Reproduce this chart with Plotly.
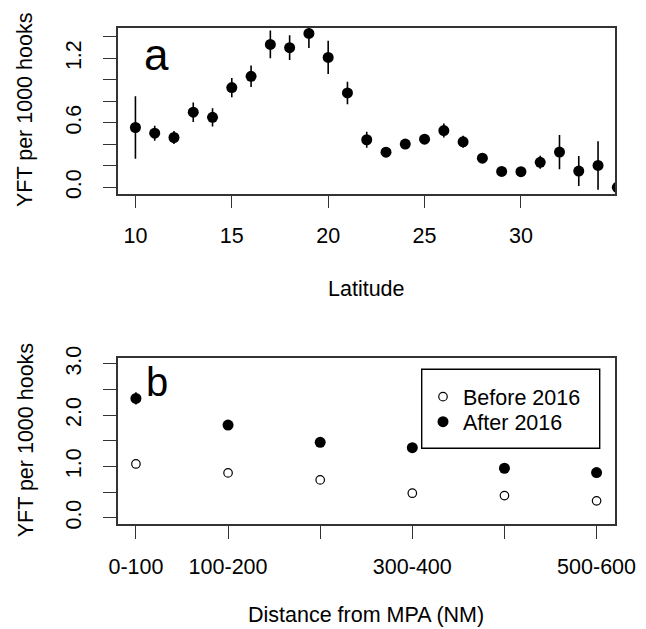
import plotly.graph_objects as go

# ---- Panel a data ----
latitude = [10, 11, 12, 13, 14, 15, 16, 17, 18, 19, 20, 21, 22, 23, 24, 25, 26, 27, 28, 29, 30, 31, 32, 33, 34, 35]
yft_lat = [0.557, 0.504, 0.464, 0.699, 0.652, 0.928, 1.033, 1.330, 1.299, 1.432, 1.209, 0.878, 0.443,
           0.327, 0.403, 0.448, 0.528, 0.424, 0.272, 0.148, 0.146, 0.233, 0.328, 0.152, 0.204, 0.0]
yft_lat_err = [0.29, 0.07, 0.06, 0.09, 0.085, 0.09, 0.10, 0.13, 0.115, 0.135, 0.155, 0.105, 0.075,
               0.03, 0.03, 0.035, 0.065, 0.055, 0.04, 0.03, 0.03, 0.06, 0.16, 0.14, 0.225, 0.0]
lat_ticks = [10, 15, 20, 25, 30]
a_yticks = [0.0, 0.2, 0.4, 0.6, 0.8, 1.0, 1.2, 1.4]
a_yticklabels = ["0.0", "", "", "0.6", "", "", "1.2", ""]

# ---- Panel b data ----
distance_bins = ["0-100", "100-200", "200-300", "300-400", "400-500", "500-600"]
shown_bin_labels = ["0-100", "100-200", "", "300-400", "", "500-600"]
before_2016 = [1.050, 0.875, 0.739, 0.480, 0.434, 0.331]
before_err = [0.05, 0.05, 0.05, 0.05, 0.05, 0.05]
after_2016 = [2.327, 1.808, 1.471, 1.367, 0.966, 0.881]
after_err = [0.12, 0.04, 0.04, 0.04, 0.04, 0.04]
b_yticks = [0.0, 0.5, 1.0, 1.5, 2.0, 2.5, 3.0]
b_yticklabels = ["0.0", "", "1.0", "", "2.0", "", "3.0"]

W, H = 646, 629
FONT = "Liberation Sans, Arial, sans-serif"
BOX = "#333333"
FS = 21.5

def px(x):
    return x / W

def py(y):
    return 1 - y / H

fig = go.Figure()

fig.add_trace(go.Scatter(
    x=latitude, y=yft_lat, mode="markers",
    marker=dict(size=11, color="black"),
    error_y=dict(type="data", array=yft_lat_err, color="black", thickness=1.6, width=0),
    showlegend=False, xaxis="x", yaxis="y",
))

bin_pos = list(range(1, len(distance_bins) + 1))
fig.add_trace(go.Scatter(
    x=bin_pos, y=before_2016, mode="markers", name="Before 2016",
    marker=dict(size=8.5, color="white", line=dict(color="black", width=1.2)),
    error_y=dict(type="data", array=before_err, color="black", thickness=1.2, width=0),
    xaxis="x2", yaxis="y2", legend="legend",
))
fig.add_trace(go.Scatter(
    x=bin_pos, y=after_2016, mode="markers", name="After 2016",
    marker=dict(size=11, color="black"),
    error_y=dict(type="data", array=after_err, color="black", thickness=1.6, width=0),
    xaxis="x2", yaxis="y2", legend="legend2",
))

axis_common = dict(
    showline=True, mirror=True, linecolor=BOX, linewidth=1.6,
    ticks="outside", ticklen=13, tickwidth=1.4, tickcolor=BOX,
    showgrid=False, zeroline=False, automargin=False,
    tickfont=dict(family=FONT, size=FS, color="black"),
)
title_font = dict(family=FONT, size=FS, color="black")
legend_common = dict(xanchor="left", yanchor="middle", borderwidth=0,
                     bgcolor="rgba(0,0,0,0)", font=dict(family=FONT, size=FS, color="black"),
                     itemwidth=30)

fig.update_layout(
    width=W, height=H,
    margin=dict(l=0, r=0, t=0, b=0),
    paper_bgcolor="white", plot_bgcolor="white",
    font=dict(family=FONT, size=FS, color="black"),
    showlegend=True,
    xaxis=dict(domain=[px(117.5), px(615)], range=[9.07, 34.88],
               tickvals=lat_ticks, anchor="y", ticklabelstandoff=9, **axis_common),
    yaxis=dict(domain=[py(193.5), py(27.5)], range=[-0.057, 1.487],
               tickvals=a_yticks, ticktext=a_yticklabels, tickangle=-90, anchor="x",
               ticklabelstandoff=13, **axis_common),
    xaxis2=dict(domain=[px(117.5), px(615)], range=[0.8, 6.2],
                tickvals=bin_pos, ticktext=shown_bin_labels, anchor="y2",
                ticklabelstandoff=9, **axis_common),
    yaxis2=dict(domain=[py(524), py(357.7)], range=[-0.12, 3.12],
                tickvals=b_yticks, ticktext=b_yticklabels, tickangle=-90, anchor="x2",
                ticklabelstandoff=13, **axis_common),
    legend=dict(x=px(423), y=py(396.7), **legend_common),
    legend2=dict(x=px(423), y=py(421.7), **legend_common),
    shapes=[
        dict(type="rect", xref="paper", yref="paper",
             x0=px(421.7), x1=px(599.7), y0=py(448.3), y1=py(369.3),
             line=dict(color="black", width=1.4), fillcolor="rgba(0,0,0,0)", layer="below"),
    ],
    annotations=[
        dict(text="a", x=px(142), y=py(55), xref="paper", yref="paper",
             xanchor="left", yanchor="middle", showarrow=False,
             font=dict(family=FONT, size=44, color="black")),
        dict(text="b", x=px(144), y=py(382), xref="paper", yref="paper",
             xanchor="left", yanchor="middle", showarrow=False,
             font=dict(family=FONT, size=40, color="black")),
        # axis titles
        dict(text="Latitude", x=px(366), y=py(289), xref="paper", yref="paper",
             xanchor="center", yanchor="middle", showarrow=False, font=title_font),
        dict(text="Distance from MPA (NM)", x=px(366), y=py(615), xref="paper", yref="paper",
             xanchor="center", yanchor="middle", showarrow=False, font=title_font),
        dict(text="YFT per 1000 hooks", x=px(25.5), y=py(110.5), xref="paper", yref="paper",
             xanchor="center", yanchor="middle", textangle=-90, showarrow=False, font=title_font),
        dict(text="YFT per 1000 hooks", x=px(25.5), y=py(440.8), xref="paper", yref="paper",
             xanchor="center", yanchor="middle", textangle=-90, showarrow=False, font=title_font),
    ],
)

fig.write_html(
    "out.html",
    config={"displayModeBar": False},
    post_script="document.body.style.margin='0';document.body.style.overflow='hidden';",
)
